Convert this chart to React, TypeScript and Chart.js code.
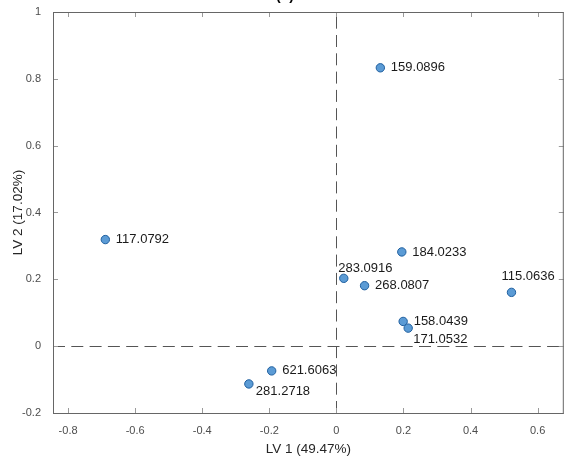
import { useEffect, useRef } from 'react';
import { Chart, registerables } from 'chart.js';

Chart.register(...registerables);

// ---- data ----
const LABELS = ['159.0896', '117.0792', '184.0233', '283.0916', '268.0807', '115.0636', '158.0439', '171.0532', '621.6063', '281.2718'];
const LV1 = [0.131, -0.689, 0.195, 0.022, 0.084, 0.522, 0.199, 0.214, -0.193, -0.261];
const LV2 = [0.833, 0.319, 0.282, 0.203, 0.181, 0.161, 0.074, 0.054, -0.074, -0.113];
const X_TICKS = [-0.8, -0.6, -0.4, -0.2, 0, 0.2, 0.4, 0.6];
const Y_TICKS = [-0.2, 0, 0.2, 0.4, 0.6, 0.8, 1];
const X_TITLE = 'LV 1 (49.47%)';
const Y_TITLE = 'LV 2 (17.02%)';
const CHART_TITLE = '(b)';

// ---- styling ----
const FONT = "'Liberation Sans', Arial, sans-serif";
const CANVAS_W = 569;
const CANVAS_H = 477;
const LABEL_PLACEMENT: Record<string, [number, number]> = {
  '283.0916': [-5.5, -10],
  '115.0636': [-10, -16],
  '171.0532': [5, 11.5],
  '281.2718': [7, 7.5],
};
const DEFAULT_PLACEMENT: [number, number] = [10.5, 0];

const fmt = (v: number) => {
  const r = Math.round(v * 10) / 10;
  return r === 0 ? '0' : String(r);
};

const overlay = {
  id: 'overlay',
  beforeDatasetsDraw(chart: any) {
    const { ctx, chartArea } = chart;
    const { left, right, top, bottom } = chartArea;
    const xs = chart.scales.x;
    const ys = chart.scales.y;
    ctx.save();
    ctx.strokeStyle = '#555';
    ctx.lineWidth = 1;
    ctx.setLineDash([12, 6.3]);
    const x0 = Math.round(xs.getPixelForValue(0)) + 0.5;
    ctx.beginPath();
    ctx.moveTo(x0, bottom);
    ctx.lineTo(x0, top);
    ctx.stroke();
    const y0 = Math.round(ys.getPixelForValue(0)) + 0.5;
    ctx.beginPath();
    ctx.moveTo(left, y0);
    ctx.lineTo(right, y0);
    ctx.stroke();
    ctx.restore();
  },
  afterDatasetsDraw(chart: any) {
    const { ctx } = chart;
    const meta = chart.getDatasetMeta(0);
    ctx.save();
    ctx.font = `13px ${FONT}`;
    ctx.fillStyle = '#1a1a1a';
    ctx.textAlign = 'left';
    ctx.textBaseline = 'middle';
    meta.data.forEach((el: any, i: number) => {
      const lab = LABELS[i];
      const [dx, dy] = LABEL_PLACEMENT[lab] || DEFAULT_PLACEMENT;
      ctx.fillText(lab, el.x + dx, el.y + dy);
    });
    ctx.restore();
  },
  afterDraw(chart: any) {
    const { ctx, chartArea } = chart;
    const { left, right, top, bottom } = chartArea;
    const xs = chart.scales.x;
    const ys = chart.scales.y;
    ctx.save();
    ctx.strokeStyle = '#9a9a9a';
    ctx.lineWidth = 1;
    ctx.beginPath();
    X_TICKS.forEach((v) => {
      const px = Math.round(xs.getPixelForValue(v)) + 0.5;
      ctx.moveTo(px, bottom);
      ctx.lineTo(px, bottom - 5);
      ctx.moveTo(px, top);
      ctx.lineTo(px, top + 5);
    });
    Y_TICKS.forEach((v) => {
      const py = Math.round(ys.getPixelForValue(v)) + 0.5;
      ctx.moveTo(left, py);
      ctx.lineTo(left + 5, py);
      ctx.moveTo(right, py);
      ctx.lineTo(right - 5, py);
    });
    ctx.stroke();
    ctx.strokeStyle = '#666';
    ctx.strokeRect(left + 0.5, top + 0.5, right - left - 1, bottom - top);
    ctx.font = `bold 14px ${FONT}`;
    ctx.fillStyle = '#000';
    ctx.textAlign = 'center';
    ctx.textBaseline = 'alphabetic';
    ctx.fillText(CHART_TITLE, 285, 19.5);
    ctx.restore();
  },
};

export default function App() {
  const ref = useRef<HTMLCanvasElement>(null);
  useEffect(() => {
    const chart = new Chart(ref.current as HTMLCanvasElement, {
      type: 'scatter',
      data: {
        datasets: [
          {
            data: LV1.map((x, i) => ({ x, y: LV2[i] })),
            backgroundColor: '#5b9bd5',
            borderColor: '#1f5f9f',
            borderWidth: 1,
            pointRadius: 4.2,
          },
        ],
      },
      options: {
        responsive: false,
        devicePixelRatio: 1,
        animation: false,
        layout: { padding: { top: 32, right: 1, left: 0, bottom: 0 } },
        plugins: { legend: { display: false }, tooltip: { enabled: false } },
        scales: {
          x: {
            type: 'linear',
            min: -0.845,
            max: 0.678,
            afterBuildTicks: (s: any) => {
              s.ticks = X_TICKS.map((v) => ({ value: v }));
            },
            afterFit: (s: any) => {
              s.height = 44;
              s.paddingLeft = 0;
              s.paddingRight = 0;
            },
            grid: { display: false },
            border: { display: false },
            ticks: {
              autoSkip: false,
              maxRotation: 0,
              padding: 3,
              color: '#4d4d4d',
              font: { size: 11, family: FONT },
              callback: (v: any) => fmt(Number(v)),
            },
            title: {
              display: true,
              text: X_TITLE,
              color: '#262626',
              font: { size: 13.5, family: FONT },
              padding: { top: 0, bottom: 0 },
            },
          },
          y: {
            type: 'linear',
            min: -0.2,
            max: 1,
            afterBuildTicks: (s: any) => {
              s.ticks = Y_TICKS.map((v) => ({ value: v }));
            },
            afterFit: (s: any) => {
              s.width = 53;
              s.paddingTop = 0;
              s.paddingBottom = 0;
            },
            grid: { display: false },
            border: { display: false },
            ticks: {
              autoSkip: false,
              padding: 4,
              color: '#4d4d4d',
              font: { size: 11, family: FONT },
              callback: (v: any) => fmt(Number(v)),
            },
            title: {
              display: true,
              text: Y_TITLE,
              color: '#262626',
              font: { size: 13.5, family: FONT },
              padding: { top: 10, bottom: 0 },
            },
          },
        },
      },
      plugins: [overlay],
    } as any);
    return () => chart.destroy();
  }, []);
  return (
    <div style={{ position: 'absolute', left: 0, top: -20, width: 565, height: CANVAS_H, overflow: 'hidden' }}>
      <canvas ref={ref} width={CANVAS_W} height={CANVAS_H} style={{ display: 'block', width: CANVAS_W, height: CANVAS_H }} />
    </div>
  );
}
